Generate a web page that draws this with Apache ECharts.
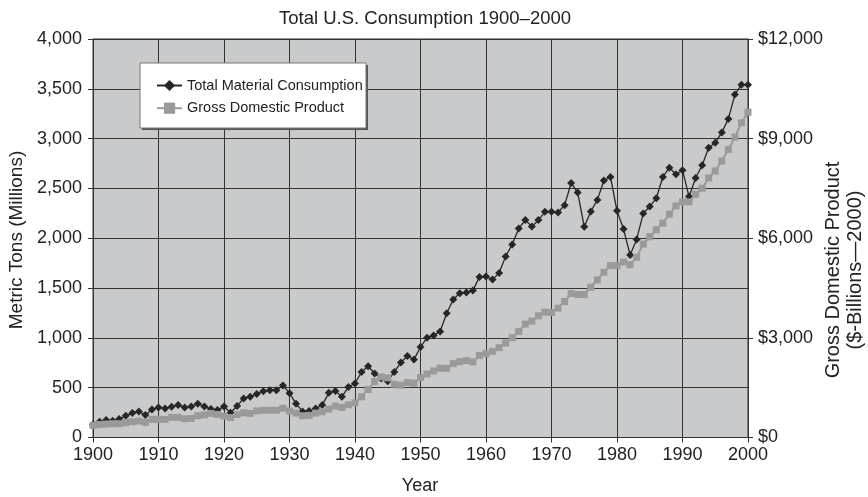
<!DOCTYPE html>
<html>
<head>
<meta charset="utf-8">
<title>Total U.S. Consumption 1900-2000</title>
<script src="https://cdn.jsdelivr.net/npm/echarts@6/dist/echarts.min.js"></script>
<style>
  html, body { margin: 0; padding: 0; background: #fff; }
  #chart { width: 868px; height: 497px; }
</style>
</head>
<body>
<div id="chart"></div>
<script>
var FONT = "'Liberation Sans', Arial, Helvetica, sans-serif";

// years on the x axis
var years = [];
for (var y = 1900; y <= 2000; y++) years.push(y);

var yearTicks = [1900, 1910, 1920, 1930, 1940, 1950, 1960, 1970, 1980, 1990, 2000];

// metric tons (millions)
var tmc = [
  130, 158, 175, 167, 185, 218, 245, 262, 225, 282,
  302, 292, 308, 326, 302, 312, 340, 312, 285, 275,
  312, 248, 316, 392, 408, 437, 465, 475, 475, 522,
  445, 338, 262, 265, 292, 325, 448, 468, 408, 508,
  542, 658, 715, 642, 592, 565, 658, 752, 818, 782,
  908, 1002, 1025, 1065, 1248, 1385, 1448, 1455, 1475, 1612,
  1615, 1585, 1652, 1818, 1938, 2098, 2182, 2118, 2182, 2265,
  2265, 2258, 2332, 2555, 2458, 2115, 2268, 2385, 2580, 2615,
  2275, 2092, 1832, 1988, 2248, 2318, 2402, 2615, 2708, 2642,
  2682, 2418, 2605, 2732, 2908, 2958, 3062, 3198, 3442, 3542,
  3542
];

// gdp, $ billions (2000)
var gdp = [
  365, 390, 405, 415, 415, 445, 475, 495, 455, 545,
  545, 545, 605, 605, 565, 575, 655, 680, 725, 695,
  645, 600, 690, 745, 725, 800, 820, 820, 820, 880,
  800, 735, 655, 665, 735, 775, 855, 945, 905, 985,
  1045, 1225, 1445, 1685, 1825, 1795, 1605, 1575, 1655, 1635,
  1805, 1915, 2005, 2085, 2085, 2225, 2285, 2315, 2275, 2470,
  2525, 2595, 2705, 2845, 3005, 3195, 3415, 3505, 3665, 3775,
  3765, 3895, 4095, 4335, 4305, 4305, 4525, 4745, 4975, 5175,
  5175, 5285, 5205, 5425, 5825, 6045, 6255, 6455, 6725, 6975,
  7095, 7095, 7325, 7505, 7815, 8025, 8325, 8675, 9045, 9475,
  9795
];

var seriesNames = ['Total Material Consumption', 'Gross Domestic Product'];

function pairs(vals) {
  var out = [];
  for (var i = 0; i < years.length; i++) out.push([years[i], vals[i]]);
  return out;
}
function commas(v) {
  return String(v).replace(/\B(?=(\d{3})+(?!\d))/g, ',');
}

var chart = echarts.init(document.getElementById('chart'), null, { renderer: 'canvas' });

var TICK_SIZE = 18;

chart.setOption({
  animation: false,
  backgroundColor: '#fff',
  textStyle: { fontFamily: FONT },
  title: {
    text: 'Total U.S. Consumption 1900\u20132000',
    left: 420,
    textAlign: 'center',
    top: 4,
    textStyle: { color: '#222', fontSize: 18.5, fontWeight: 'normal', fontFamily: FONT }
  },
  grid: {
    left: 93,
    right: 120,
    top: 39,
    bottom: 59.5,
    show: true,
    backgroundColor: '#c9cacc',
    borderColor: '#333',
    borderWidth: 1
  },
  legend: {
    orient: 'vertical',
    left: 156,
    top: 78,
    padding: 0,
    itemWidth: 25,
    itemHeight: 14,
    itemGap: 7.7,
    data: seriesNames,
    textStyle: { color: '#222', fontSize: 14.5, fontFamily: FONT },
    z: 20
  },
  xAxis: {
    type: 'value',
    min: 1900,
    max: 2000,
    interval: 10,
    axisLine: { show: true, lineStyle: { color: '#333', width: 1 } },
    axisTick: { show: true, length: 5, lineStyle: { color: '#333' } },
    axisLabel: { margin: 9, formatter: function (v) { return yearTicks.indexOf(v) >= 0 ? String(v) : ''; }, color: '#222', fontSize: TICK_SIZE, fontFamily: FONT },
    splitLine: { show: true, lineStyle: { color: '#333', width: 1 } }
  },
  yAxis: [{
    type: 'value',
    min: 0,
    max: 4000,
    interval: 500,
    axisLine: { show: true, lineStyle: { color: '#333' } },
    axisTick: { show: true, length: 5, lineStyle: { color: '#333' } },
    axisLabel: { margin: 11, formatter: function (v) { return commas(v); }, color: '#222', fontSize: TICK_SIZE, fontFamily: FONT },
    splitLine: { show: true, lineStyle: { color: '#333', width: 1 } }
  }, {
    type: 'value',
    position: 'right',
    min: 0,
    max: 12000,
    interval: 3000,
    axisLine: { show: true, lineStyle: { color: '#333' } },
    axisTick: { show: true, length: 5, lineStyle: { color: '#333' } },
    axisLabel: { margin: 10, formatter: function (v) { return '$' + commas(v); }, color: '#222', fontSize: TICK_SIZE, fontFamily: FONT },
    splitLine: { show: false }
  }],
  series: [{
    name: seriesNames[0],
    type: 'line',
    yAxisIndex: 0,
    data: pairs(tmc),
    symbol: 'diamond',
    symbolSize: 8,
    color: '#262626',
    lineStyle: { color: '#262626', width: 1.3 },
    itemStyle: { color: '#262626' },
    z: 3
  }, {
    name: seriesNames[1],
    type: 'line',
    yAxisIndex: 1,
    data: pairs(gdp),
    symbol: 'rect',
    symbolSize: 7,
    color: '#9a9a9a',
    lineStyle: { color: '#9a9a9a', width: 2 },
    itemStyle: { color: '#9a9a9a' },
    z: 4
  }],
  graphic: [
    // legend box with shadow
    { type: 'rect', shape: { x: 142, y: 65, width: 226, height: 65 }, style: { fill: '#555' }, z: 10 },
    { type: 'rect', shape: { x: 140, y: 63, width: 226, height: 65 }, style: { fill: '#fff', stroke: '#777', lineWidth: 1 }, z: 11 },
    // axis titles
    { type: 'text', x: 17, y: 240, rotation: Math.PI / 2, style: { text: 'Metric Tons (Millions)', fill: '#222', font: '19px ' + FONT, textAlign: 'center', textVerticalAlign: 'middle' } },
    { type: 'text', x: 833, y: 270, rotation: Math.PI / 2, style: { text: 'Gross Domestic Product', fill: '#222', font: '20px ' + FONT, textAlign: 'center', textVerticalAlign: 'middle' } },
    { type: 'text', x: 855, y: 270, rotation: Math.PI / 2, style: { text: '($-Billions\u20142000)', fill: '#222', font: '20px ' + FONT, textAlign: 'center', textVerticalAlign: 'middle' } },
    { type: 'text', x: 420, y: 486, style: { text: 'Year', fill: '#222', font: '18px ' + FONT, textAlign: 'center', textVerticalAlign: 'middle' } }
  ]
});
</script>
</body>
</html>
